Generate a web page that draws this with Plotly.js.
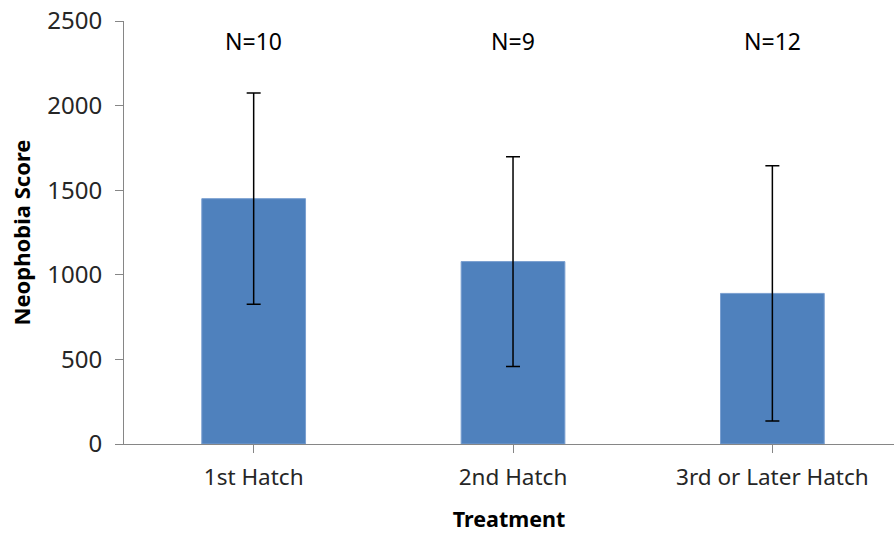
<!DOCTYPE html>
<html>
<head>
<meta charset="utf-8">
<script src="https://cdn.plot.ly/plotly-3.0.1.min.js"></script>
<style>html,body{margin:0;padding:0;background:#fff;}#chart{width:894px;height:533px;}</style>
</head>
<body>
<div id="chart"></div>
<script>
const categories = ["1st Hatch", "2nd Hatch", "3rd or Later Hatch"];
const meanScores = [1450, 1078, 890];
const errorValues = [624, 620, 754];
const sampleLabels = ["N=10", "N=9", "N=12"];
const yTicks = [0, 500, 1000, 1500, 2000, 2500];

const FONT = "Noto Sans, Open Sans, sans-serif";

const trace = {
  type: "bar",
  x: [0, 1, 2],
  y: meanScores,
  width: 0.4,
  marker: {color: "#4F81BD", line: {color: "#7A9FD0", width: 1}},
  error_y: {type: "data", array: errorValues, visible: true, color: "#000000", thickness: 1.5, width: 7},
  hoverinfo: "none"
};

const annotations = sampleLabels.map((t, i) => ({
  x: i, y: 2380, xref: "x", yref: "y", text: t, showarrow: false,
  font: {family: FONT, size: 23, color: "#000000"}
}));

const layout = {
  width: 894, height: 533,
  margin: {l: 124, r: 0, t: 21, b: 89},
  paper_bgcolor: "#ffffff", plot_bgcolor: "#ffffff",
  showlegend: false,
  xaxis: {
    range: [-0.5, 2.469],
    tickvals: [0, 1, 2], ticktext: categories,
    tickson: "boundaries", ticks: "outside", ticklen: 8, tickcolor: "#868686", tickwidth: 1,
    showline: true, linecolor: "#868686", linewidth: 1,
    showgrid: false, zeroline: false,
    ticklabelstandoff: 5,
    tickfont: {family: FONT, size: 22.5, color: "#262626"},
    title: {text: "<b>Treatment</b>", font: {family: FONT, size: 21.5, color: "#000000"}, standoff: 20}
  },
  yaxis: {
    range: [0, 2500],
    tickvals: yTicks,
    ticks: "outside", ticklen: 8, tickcolor: "#868686", tickwidth: 1,
    showline: true, linecolor: "#868686", linewidth: 1,
    showgrid: false, zeroline: false,
    ticklabelstandoff: 8,
    tickfont: {family: FONT, size: 24, color: "#262626"},
    title: {text: "<b>Neophobia Score</b>", font: {family: FONT, size: 22, color: "#000000"}, standoff: 10}
  },
  annotations: annotations
};

Plotly.newPlot("chart", [trace], layout, {displayModeBar: false, staticPlot: true});
</script>
</body>
</html>
